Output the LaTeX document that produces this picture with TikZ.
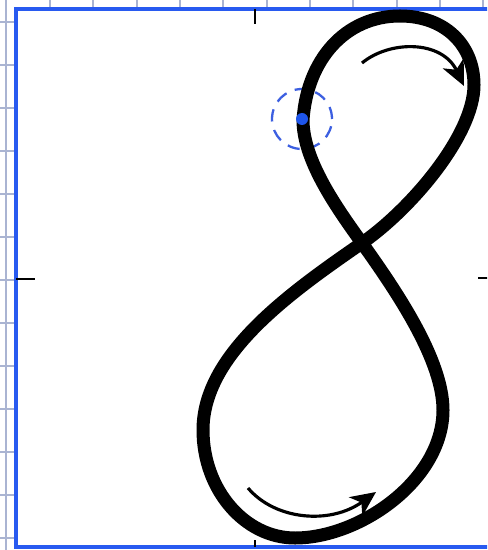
\documentclass[tikz,border=0pt]{standalone}
\usetikzlibrary{arrows.meta}
\definecolor{frameblue}{RGB}{40,90,240}
\definecolor{gridgray}{RGB}{170,180,210}
\definecolor{pinblue}{RGB}{30,85,235}
\definecolor{ringblue}{RGB}{60,95,225}
\begin{document}
\begin{tikzpicture}[
  x=0.02cm, y=-0.02cm,
  gridline/.style={draw=gridgray, line width=1.3pt},
  frame/.style={draw=frameblue, fill=white, line width=2pt},
  tickmark/.style={draw=black, line width=1.6pt},
  loop/.style={draw=black, line width=7.4pt, line join=round},
  flow/.style={draw=black, line width=1.8pt, -{Stealth[length=5mm, width=4.6mm, inset=1.4mm]}},
  pin/.style={circle, fill=pinblue, inner sep=0pt, minimum size=0.24cm},
  ring/.style={circle, draw=ringblue, line width=1.3pt, dash pattern=on 7pt off 5pt, inner sep=0pt, minimum size=1.2cm}
]
\useasboundingbox (0,0) rectangle (487,550);
\clip (0,0) rectangle (487,550);
% grid behind the frame
\foreach \gy in {22,65,108,151,194,237,280,323,366,409,452,495,538}
  \draw[gridline] (0,\gy) -- (16,\gy);
\foreach \gx in {50,93,137,180,223,267,310,353,397,440,483}
  \draw[gridline] (\gx,0) -- (\gx,10);
\draw[gridline] (6,0) -- (6,550);
% frame
\draw[frame] (16,9) rectangle (494,547);
% centre ticks
\draw[tickmark] (255,9) -- (255,24);
\draw[tickmark] (255,540) -- (255,547);
\draw[tickmark] (16,279) -- (35,279);
\draw[tickmark] (478,278) -- (494,278);
% start point
\node[ring] (ring) at (302,119) {};
% figure eight
\coordinate (cross) at (362,243);
\draw[loop] (303,120)
  .. controls (307,60) and (345,16) .. (400,16)
  .. controls (445,16) and (474,45) .. (474,85)
  .. controls (474,135) and (411,209) .. (cross)
  .. controls (288,294) and (203,355) .. (203,430)
  .. controls (203,490) and (245,538) .. (295,538)
  .. controls (360,538) and (443,480) .. (443,410)
  .. controls (443,360) and (397,292) .. (cross)
  .. controls (336,207) and (303,160) .. cycle;
\node[pin] (pin) at (ring.center) {};
% direction of travel
\coordinate (upstart) at (362,63);
\coordinate (upend) at (464,86);
\coordinate (lowstart) at (248,488);
\coordinate (lowend) at (376,492);
\draw[flow] (upstart) .. controls (390,40) and (442,40) .. (upend);
\draw[flow] (lowstart) .. controls (275,520) and (330,525) .. (lowend);
\end{tikzpicture}
\end{document}
